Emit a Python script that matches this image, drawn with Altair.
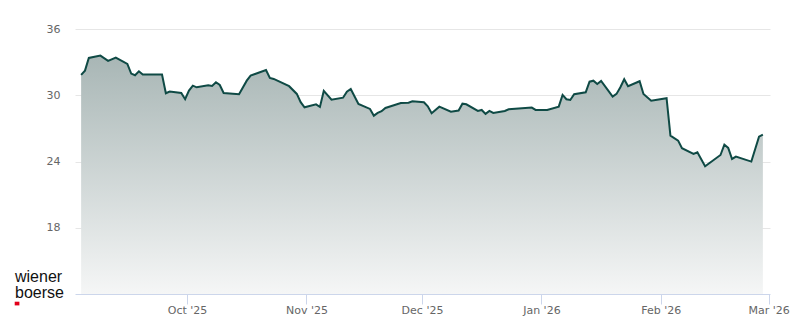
import altair as alt
import pandas as pd

dates = [
    "2025-09-03", "2025-09-04", "2025-09-05", "2025-09-08", "2025-09-10", "2025-09-12",
    "2025-09-15", "2025-09-16", "2025-09-17", "2025-09-18", "2025-09-19", "2025-09-24",
    "2025-09-25", "2025-09-26", "2025-09-29", "2025-09-30", "2025-10-01", "2025-10-02",
    "2025-10-03", "2025-10-06", "2025-10-07", "2025-10-08", "2025-10-09", "2025-10-10",
    "2025-10-14", "2025-10-16", "2025-10-17", "2025-10-21", "2025-10-22", "2025-10-23",
    "2025-10-27", "2025-10-29", "2025-10-30", "2025-10-31", "2025-11-03", "2025-11-04",
    "2025-11-05", "2025-11-07", "2025-11-10", "2025-11-11", "2025-11-12", "2025-11-14",
    "2025-11-17", "2025-11-18", "2025-11-19", "2025-11-20", "2025-11-21", "2025-11-25",
    "2025-11-27", "2025-11-28", "2025-12-01", "2025-12-02", "2025-12-03", "2025-12-05",
    "2025-12-08", "2025-12-10", "2025-12-11", "2025-12-12", "2025-12-15", "2025-12-16",
    "2025-12-17", "2025-12-18", "2025-12-19", "2025-12-22", "2025-12-23", "2025-12-29",
    "2025-12-30", "2026-01-02", "2026-01-05", "2026-01-06", "2026-01-07", "2026-01-08",
    "2026-01-09", "2026-01-12", "2026-01-13", "2026-01-14", "2026-01-15", "2026-01-16",
    "2026-01-19", "2026-01-20", "2026-01-21", "2026-01-22", "2026-01-23", "2026-01-26",
    "2026-01-27", "2026-01-29", "2026-02-02", "2026-02-03", "2026-02-05", "2026-02-06",
    "2026-02-09", "2026-02-10", "2026-02-12", "2026-02-16", "2026-02-17", "2026-02-18",
    "2026-02-19", "2026-02-20", "2026-02-24", "2026-02-26", "2026-02-27",
]
prices = [
    31.84, 32.23, 33.38, 33.59, 33.11, 33.41,
    32.84, 31.96, 31.81, 32.17, 31.87, 31.87,
    30.18, 30.33, 30.21, 29.64, 30.42, 30.87,
    30.72, 30.91, 30.84, 31.18, 30.93, 30.21,
    30.09, 31.32, 31.78, 32.29, 31.57, 31.48,
    30.82, 30.12, 29.37, 28.91, 29.18, 28.94,
    30.39, 29.60, 29.78, 30.33, 30.57, 29.21,
    28.76, 28.15, 28.40, 28.55, 28.85, 29.30,
    29.33, 29.46, 29.37, 29.00, 28.37, 28.97,
    28.51, 28.61, 29.24, 29.18, 28.58, 28.67,
    28.31, 28.58, 28.40, 28.58, 28.73, 28.88,
    28.67, 28.67, 28.97, 30.03, 29.64, 29.57,
    30.09, 30.27, 31.23, 31.32, 31.02, 31.30,
    29.87, 30.12, 30.72, 31.45, 30.82, 31.27,
    30.12, 29.51, 29.73, 26.34, 25.89, 25.20,
    24.68, 24.84, 23.57, 24.59, 25.53, 25.23,
    24.23, 24.44, 23.99, 26.25, 26.43,
]
y_ticks = [18, 24, 30, 36]
y_min = 12
y_max = 36
logo_lines = ["wiener", "boerse"]

ts = pd.to_datetime(pd.Series(dates)) + pd.Timedelta(hours=12)
df = pd.DataFrame({"date": ts.dt.strftime("%Y-%m-%dT%H:%M:%S"), "price": prices})

x_enc = alt.X(
    "date:T",
    scale=alt.Scale(domain=[
        alt.DateTime(year=2025, month=9, date=1, hours=21, minutes=50),
        alt.DateTime(year=2026, month=3, date=1, hours=8, minutes=24),
    ]),
    axis=alt.Axis(
        title=None, format="%b '%y", tickCount={"interval": "month", "step": 1},
        grid=False, domainColor="#ccd6eb", tickColor="#ccd6eb", tickSize=10,
        labelColor="#666666", labelFont="DejaVu Sans", labelFontSize=11,
        labelPadding=0, labelFlush=False, labelOverlap=False, zindex=1,
    ),
)
y_enc = alt.Y(
    "price:Q",
    scale=alt.Scale(domain=[y_min, y_max], nice=False, zero=False),
    axis=alt.Axis(
        title=None, values=y_ticks, ticks=False, domain=False,
        gridColor="#e6e6e6", labelColor="#666666", labelFont="DejaVu Sans",
        labelFontSize=11, labelPadding=15, zindex=0,
    ),
)

base = alt.Chart(df)
area = base.mark_area(
    color=alt.Gradient(
        gradient="linear",
        stops=[alt.GradientStop(color="#a8b6b5", offset=0),
               alt.GradientStop(color="#f5f6f6", offset=1)],
        x1=1, x2=1, y1=0, y2=1,
    )
).encode(x=x_enc, y=y_enc, y2=alt.datum(y_min))
line = base.mark_line(color="#0f4a45", strokeWidth=2).encode(x="date:T", y="price:Q")

logo1 = alt.Chart(pd.DataFrame({"t": [logo_lines[0]]})).mark_text(
    align="left", baseline="alphabetic", font="Liberation Sans", fontSize=16, color="#111111"
).encode(x=alt.value(-60), y=alt.value(253), text="t:N")
logo2 = alt.Chart(pd.DataFrame({"t": [logo_lines[1]]})).mark_text(
    align="left", baseline="alphabetic", font="Liberation Sans", fontSize=16, color="#111111"
).encode(x=alt.value(-60), y=alt.value(269), text="t:N")
square = alt.Chart(pd.DataFrame({"k": [0]})).mark_rect(color="#e2001a").encode(
    x=alt.value(-60.3), x2=alt.value(-55.6), y=alt.value(272.7), y2=alt.value(276.4)
)

chart = alt.layer(area, line, logo1, logo2, square).properties(
    width=695, height=265,
    autosize=alt.AutoSizeParams(type="none"),
    padding={"left": 75, "top": 29, "right": 30, "bottom": 30},
    background="white",
).configure_view(stroke=None)

chart.save("out.html", embed_options={"renderer": "svg", "actions": False})
